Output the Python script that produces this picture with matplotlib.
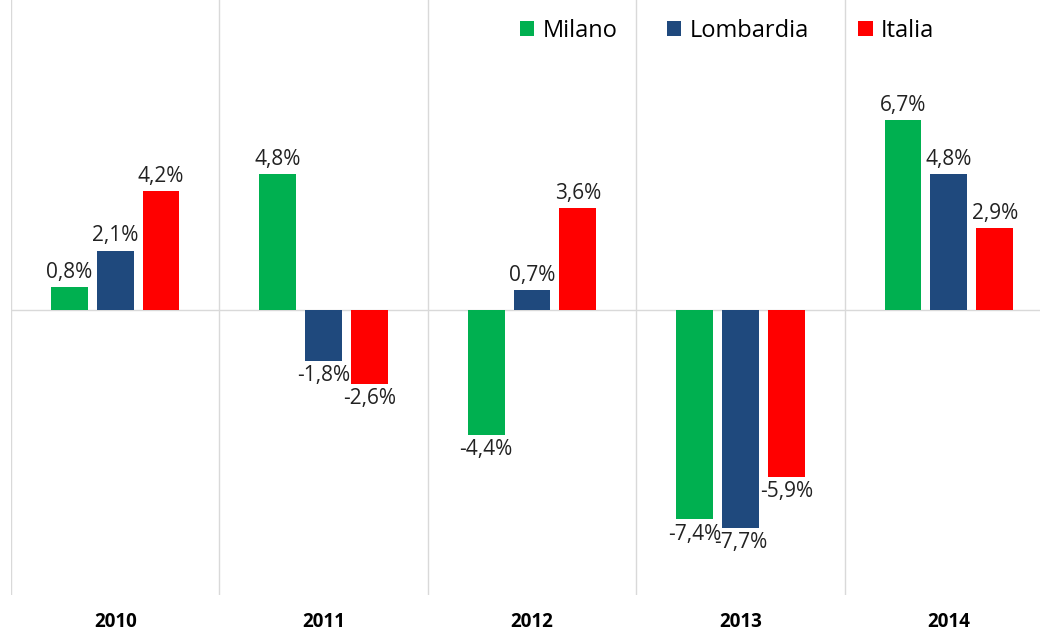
import matplotlib
matplotlib.use("Agg")
import matplotlib.pyplot as plt
import numpy as np

# dati: variazione % annua
years = ["2010", "2011", "2012", "2013", "2014"]
milano = [0.8, 4.8, -4.4, -7.4, 6.7]
lombardia = [2.1, -1.8, 0.7, -7.7, 4.8]
italia = [4.2, -2.6, 3.6, -5.9, 2.9]

series = [("Milano", milano, "#00B050"),
          ("Lombardia", lombardia, "#1F497D"),
          ("Italia", italia, "#FF0000")]

plt.rcParams['font.family'] = ['Open Sans', 'DejaVu Sans']

fig = plt.figure(figsize=(10.4, 6.33), dpi=100)
ax = fig.add_axes([11 / 1040, 38 / 633, 1042 / 1040, 595 / 633])

x = np.arange(len(years))
width = 0.177
step = 0.22

for i, (name, vals, color) in enumerate(series):
    bars = ax.bar(x + (i - 1) * step, vals, width, color=color, label=name, zorder=3)
    labels = [f"{v:.1f}%".replace(".", ",") for v in vals]
    ax.bar_label(bars, labels=labels, padding=3, fontsize=15, color="#222222")

# separatori tra le categorie
for b in np.arange(-0.5, len(years), 1.0):
    ax.axvline(b, color="#d9d9d9", lw=1, zorder=1)
ax.axhline(0, color="#d9d9d9", lw=1, zorder=1)

ax.set_xlim(-0.5, len(years) - 0.5)
ax.set_ylim(-10.07, 10.95)
ax.set_xticks(x)
ax.set_xticklabels(years, fontweight="bold", fontsize=13.5)
ax.tick_params(axis="x", length=0, pad=12)
ax.set_yticks([])
for s in ax.spines.values():
    s.set_visible(False)

ax.legend(loc="upper left", bbox_to_anchor=(488 / 1042, 1.004), ncol=3, frameon=False,
          fontsize=17, handlelength=0.6, handleheight=0.6, handletextpad=0.35,
          columnspacing=2.1)

fig.savefig("out.png", dpi=100)
